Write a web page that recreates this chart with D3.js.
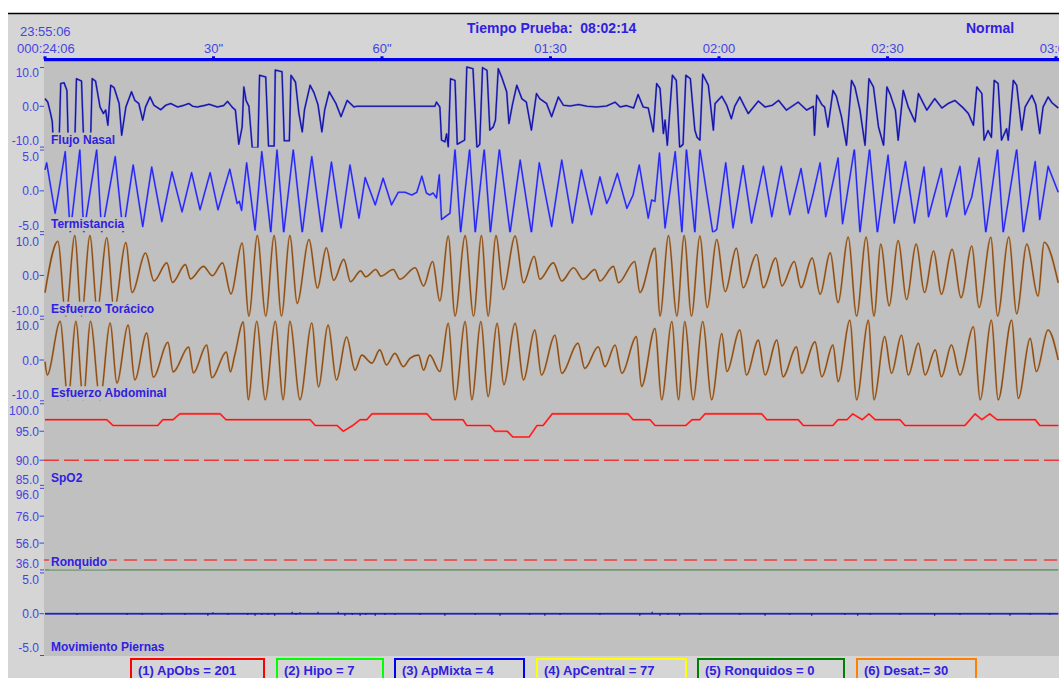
<!DOCTYPE html>
<html><head><meta charset="utf-8">
<script src="https://cdn.jsdelivr.net/npm/d3@7"></script>
<style>
html,body{margin:0;padding:0;background:#fff;overflow:hidden;}
svg{display:block;font-family:"Liberation Sans",Arial,sans-serif;}
</style></head><body>
<svg id="c" width="1059" height="678"></svg>
<script>
// ---------------- DATA ----------------
const headerStart = "23:55:06";
const headerElapsed = "000:24:06";
const headerTitle = "Tiempo Prueba:\u00a0 08:02:14";
const headerStage = "Normal";
const timeTicks = [0, 30, 60, 90, 120, 150, 180];
const timeTickLabels = ["", "30\"", "60\"", "01:30", "02:00", "02:30", "03:00"];

const channelNames = ["Flujo Nasal", "Termistancia", "Esfuerzo Torácico", "Esfuerzo Abdominal", "SpO2", "Ronquido", "Movimiento Piernas"];
const channelTicks = [[10, 0, -10], [5, 0, -5], [10, 0, -10], [10, 0, -10], [100, 95, 90, 85], [96, 76, 56, 36], [5, 0, -5]];
const channelTickLabels = [["10.0", "0.0", "-10.0"], ["5.0", "0.0", "-5.0"], ["10.0", "0.0", "-10.0"], ["10.0", "0.0", "-10.0"],
  ["100.0", "95.0", "90.0", "85.0"], ["96.0", "76.0", "56.0", "36.0"], ["5.0", "0.0", "-5.0"]];
const channelDomains = [[-12.25, 12.25], [-6.04, 6.04], [-12.1, 12.1], [-12.1, 12.1], [85.4, 100], [35, 97.7], [-6.2, 6.2]];

// [seconds, value]
const flujo = [[0,2.2],[0.5,1.2],[1.0,-2.1],[1.3,-4.5],[1.5,-11.3],[2.5,-11],[2.8,6.6],[3.4,6.8],[3.9,4.6],[4.15,-11],[5.3,-11],[5.6,8],[6.5,7.3],[6.9,-11],[8.1,-11],[8.4,8],[9.0,7.3],[9.8,-0.2],[10.4,-2.1],[10.8,-1.1],[11.2,-5.5],[11.7,6.1],[12.3,5.4],[13.2,0.8],[13.65,-8.4],[14.4,-0.2],[15.4,4.2],[16.0,1.7],[16.7,0.8],[17.4,-4],[17.9,-0.2],[18.7,2.7],[19.4,0.3],[20.6,-1],[21.5,0.3],[22.4,0.8],[23.6,-0.2],[24.6,0.2],[25.6,0.8],[26.3,0],[27.1,-0.2],[28.3,0.2],[29.2,0.6],[30.7,-0.2],[31.8,0.2],[32.5,1.4],[33.3,-0.2],[33.9,-1.1],[34.5,-11],[35.1,-6],[35.4,5.6],[35.8,1.7],[36.3,0],[36.9,-12],[37.9,-12],[38.2,9],[39.3,8.5],[39.8,-11.5],[40.8,-11.5],[41.0,10.5],[42.2,10],[42.6,-10],[43.5,-10],[43.8,9],[44.6,7],[45.2,-2],[45.8,-7.4],[46.2,-1],[47.2,6.1],[47.9,3.9],[48.6,0.5],[49.3,-7.4],[49.8,-1],[50.6,4.2],[51.8,0.8],[52.7,-3],[53.8,1.7],[55.0,-0.2],[55.5,0],[69.4,0],[69.7,1.2],[70.3,-0.2],[70.6,-9.8],[71.2,-10.3],[71.5,-8],[71.8,-11.8],[72.2,8],[73.0,7.5],[73.4,-11],[74.7,-9.8],[75.1,11.4],[76.2,10.9],[76.9,-12],[77.4,-11],[77.9,11.2],[78.7,10.4],[79.2,-6.9],[79.8,-6],[80.2,-4],[80.7,10.9],[81.3,8.5],[82.2,4.2],[82.6,-5],[83.2,0.3],[84.0,6.1],[84.9,2.2],[85.7,1.2],[86.6,-6.9],[87.5,3.7],[88.1,2.2],[89.3,0.8],[90.2,-3],[91.4,2.7],[92.3,0.3],[93.5,0.1],[95.0,0.5],[96.5,0],[98.2,-0.2],[100,0.1],[101.5,1.2],[102.4,-0.2],[103.5,0.2],[104.8,-0.5],[105.6,3.4],[106.5,-0.2],[107.4,-0.5],[108.3,-7.4],[108.9,6.6],[109.5,5.2],[110.1,-7.9],[110.4,-4],[110.8,-11.3],[111.7,9],[112.4,7.5],[113.0,-12],[113.6,-11],[114.1,9],[114.9,8],[115.7,-6.9],[116.1,-9],[116.6,-9.8],[117.1,9.3],[118.1,6.1],[119.0,-6.9],[119.3,0.8],[120.5,2.9],[121.4,0.2],[122.2,-3.6],[122.8,0],[123.7,2.7],[124.6,-0.2],[125.2,-2.1],[127.0,1.5],[128.2,-0.2],[129.5,0.3],[130.6,1.7],[132.0,-1.1],[134.1,1.2],[135.6,-1.1],[136.8,0],[137.0,-8.4],[137.4,3.2],[138.3,0.5],[138.8,-0.2],[139.4,-6],[140.3,4.6],[140.9,2.9],[141.8,-3],[142.7,-11.3],[143.6,7.5],[144.2,5.6],[145.1,-1.1],[146.0,-11.3],[146.7,8],[147.5,5.6],[148.4,-6],[149.3,-11.3],[149.9,5.6],[150.5,3.4],[151.4,-1.1],[151.9,-9.8],[152.8,4.6],[153.7,-0.2],[154.9,-4.5],[155.5,3.7],[156.4,0.8],[157.0,-1.1],[158.4,2.2],[159.7,-0.5],[160.8,0.8],[162.0,1.7],[163.5,-0.5],[164.4,-2.1],[165.3,-5.5],[165.9,5.6],[166.8,3.7],[167.2,-9.8],[167.9,-7],[168.5,-9],[169.0,7.5],[169.7,6.6],[170.3,-9.8],[171.2,-6.5],[171.5,-9.8],[172.4,7.5],[173.0,6.1],[173.9,-6.9],[174.5,-0.2],[175.7,3.2],[176.4,0.5],[177.1,-7.9],[177.7,-0.2],[178.6,2.7],[179.3,1],[180.4,-0.5]];

const termistancia = [[0,3],[0.3,4],[1.8,-3.2],[3.6,5.6],[4.5,-6],[6.2,5.9],[6.9,-6],[9.2,5.9],[10.1,-6],[12.5,4.9],[13.9,-6],[15.7,3.7],[17.4,-5.1],[19.0,3.4],[20.8,-4.4],[22.6,2.7],[24.4,-3],[26.1,2.6],[27.6,-2.7],[29.4,2.6],[30.8,-2.7],[32.9,3.1],[34.2,-1.8],[34.6,-1.5],[35.0,-2.8],[35.9,4.0],[37.4,-5.6],[38.6,5.6],[40.2,-6],[41.3,5.9],[42.5,-6],[44.2,5.9],[45.8,-6],[47.5,4.9],[49.3,-6],[51.0,4.1],[52.7,-5.3],[54.3,3.7],[55.9,-3.9],[57.0,1.9],[58.8,-2],[60.2,1.8],[61.7,-2.0],[62.9,-0.2],[64.1,-0.2],[65.3,-0.6],[66.2,-0.2],[67.1,2.1],[67.9,-0.3],[68.5,-0.6],[69.1,-0.3],[69.7,-1.0],[70.2,2.3],[70.6,-4.1],[72.1,-3.2],[73.0,6],[74.0,-6],[75.6,6],[76.6,-6],[78.2,6],[79.3,-6],[80.9,6],[82.8,-6],[84.6,4.4],[86.6,-6],[88.0,4.0],[90.2,-5.1],[92.0,4.4],[93.9,-4.6],[95.5,3.0],[97.3,-3.4],[98.8,2.0],[100.0,-1.8],[100.6,-0.8],[101.9,2.5],[103.6,-2.5],[104.7,-0.6],[105.8,3.7],[107.4,-3.9],[108.0,-1.3],[108.6,-1.5],[109.4,5.4],[110.4,-5.3],[112.2,5.6],[113.4,-6],[114.2,6],[115.7,-6],[116.6,6],[118.9,-6],[119.6,-5.5],[121.2,4.0],[122.5,-5.3],[124.3,3.6],[125.8,-4.6],[127.9,3.5],[129.4,-3.7],[131.1,3.5],[132.6,-3.4],[134.6,3.2],[135.9,-3.2],[136.8,-0.3],[138.0,4.0],[139.0,-3.7],[139.8,-0.6],[141.2,4.7],[142.0,-4.7],[144.1,6],[145.1,-6],[146.8,6],[148.2,-6],[150.1,5.1],[151.2,-4.6],[153.2,4.2],[154.8,-4.6],[156.5,3.4],[157.3,-3.7],[159.6,3.2],[160.5,-3.7],[162.9,3.5],[163.8,-3.4],[165.0,-0.9],[166.3,4.7],[167.5,-6],[169.6,6],[170.6,-6],[173.0,6],[174.2,-6],[176.3,4.2],[177.1,-4.1],[178.6,3.5],[180.4,-0.2]];

const toracico = [[0,-4.9],[2.3,9.8],[3.7,-11.7],[5.3,11.4],[6.5,-11.7],[8.0,11.4],[9.3,-10],[11.0,10.8],[12.3,-10],[14.4,9.4],[15.5,-4.9],[17.9,6.4],[19.4,-1.6],[21.7,3.6],[22.7,-2.0],[25.0,3.1],[25.9,-1.0],[28.2,2.6],[29.8,-0.1],[31.6,3.6],[33.1,-5.3],[35.1,9.3],[36.3,-11.7],[37.8,11.4],[39.3,-11.7],[40.8,11.4],[42.1,-11.7],[43.6,11.4],[44.9,-8],[47.0,10.3],[48.5,-3.6],[50.1,7.9],[51.4,-1.4],[53.2,4.6],[54.4,-1.8],[56.2,1.3],[57.1,-0.4],[58.9,1.7],[59.8,-0.2],[62.0,1.7],[63.2,-1.1],[65.9,2.2],[67.4,-3.0],[69.0,4.0],[70.3,-7.3],[71.8,11.3],[73.0,-11.7],[74.8,11.4],[76.3,-11.7],[77.7,11.4],[78.9,-11.7],[80.3,11.4],[81.6,-4.0],[83.7,11.3],[85.2,-2.1],[87.1,5.5],[88.1,-1.1],[90.5,3.6],[92.0,-1.6],[94.1,2.2],[95.8,-1.1],[97.9,1.7],[98.8,-1.6],[101.2,2.6],[102.1,-2.1],[105.0,4.0],[105.9,-4.9],[108.6,7.8],[109.5,-11.7],[111.0,11.4],[112.5,-11.7],[113.8,11.4],[115.1,-11.7],[116.6,11.3],[117.9,-9.2],[119.6,10.3],[121.1,-4.6],[123.1,7.8],[124.3,-3.5],[126.7,6.0],[127.9,-3.5],[130.1,5.0],[131.2,-3.0],[133.4,4.0],[134.6,-3.5],[136.6,5.0],[138.0,-5.4],[139.8,6.5],[141.2,-7.8],[143.0,11],[144.5,-11.7],[146.2,11],[147.6,-11.7],[148.8,9.0],[150.3,-8.7],[151.9,10],[153.4,-6.9],[155.1,9.0],[156.6,-4.9],[158.2,7.0],[159.6,-5.4],[161.5,7.5],[163.1,-6.4],[165.0,8.4],[166.3,-9.2],[168.4,10.9],[169.6,-11.7],[171.6,11],[173.0,-11],[174.8,9.0],[176.8,-5.9],[177.9,9.5],[180.4,-2.1]];

const abdominal = [[0,-0.5],[0.4,-4.3],[2.7,11.1],[4.1,-11.4],[5.5,11.1],[6.8,-11.4],[8.1,11.1],[9.8,-11.4],[11.6,10.6],[12.8,-6.6],[14.8,10],[16.0,-5.7],[18.1,7.7],[19.3,-4.9],[21.9,5.1],[22.8,-3.4],[25.6,3.7],[26.4,-3.7],[28.8,4.3],[29.7,-5.1],[32.3,2.3],[33.0,-3.4],[33.8,1.5],[35.3,10.9],[36.2,-11.4],[37.7,11.1],[39.2,-11.4],[41.0,11.1],[42.4,-11.4],[43.6,11.1],[45.4,-11.4],[47.5,10.6],[48.7,-7.7],[50.4,10],[51.9,-5.7],[53.7,6.6],[55.2,-2.9],[56.4,1.4],[58.2,-0.9],[59.6,2.9],[60.8,-1.4],[62.3,1.9],[63.8,-1.9],[65.0,0.5],[66.5,1.4],[67.4,-2.9],[68.5,1.4],[70.3,-3.3],[71.8,10.5],[73.0,-11.4],[74.8,11],[76.0,-11.4],[77.6,11],[78.9,-10.5],[80.5,10.5],[81.7,-7.1],[83.7,10.5],[85.2,-5.7],[87.2,8.6],[88.4,-4.3],[90.8,7.1],[92.0,-3.8],[94.9,4.8],[96.1,-2.4],[98.5,3.8],[99.7,-1.9],[101.5,4.3],[102.7,-3.8],[105.3,6.7],[106.2,-7.6],[108.6,9.0],[109.8,-11.4],[111.6,11],[112.8,-11.4],[113.9,11],[115.4,-11.4],[117.1,11],[118.7,-11.4],[120.5,7.6],[121.4,-3.3],[123.7,8.6],[124.9,-4.3],[127.0,5.7],[128.2,-4.3],[130.3,5.7],[131.4,-4.8],[133.8,3.8],[134.7,-3.8],[137.1,5.2],[138.3,-4.8],[140.3,4.3],[141.2,-6.2],[143.3,11.4],[144.5,-11.4],[146.6,11.4],[147.6,-11.4],[149.5,6.7],[150.7,-3.8],[152.5,7.1],[153.7,-4.3],[155.5,4.8],[156.7,-4.3],[158.5,2.9],[159.6,-4.8],[161.4,4.3],[162.9,-4.3],[165.3,9.5],[166.5,-11.4],[168.5,11.4],[169.7,-11.4],[172.1,11.4],[173.3,-11],[175.4,6.2],[176.5,-3.3],[178.6,8.6],[180.4,0]];

const spo2 = [[0,97],[11.0,97],[12.1,96],[20.1,96],[21.0,97],[22.8,97],[24.0,98],[31.2,98],[32.2,97],[47.2,97],[48.1,96],[52.0,96],[53.1,95],[54.8,96],[56.1,97],[57.3,97],[58.2,98],[68.0,98],[68.9,97],[74.4,97],[75.1,96],[79.2,96],[80.1,95],[82.3,95],[83.3,94],[86.2,94],[87.6,96],[88.7,96],[90.3,98],[103.8,98],[104.7,97],[107.7,97],[108.6,96],[114.1,96],[115.2,97],[116.6,97],[117.5,98],[127.6,98],[128.5,97],[134.1,97],[135.0,96],[140.3,96],[141.2,97],[142.8,97],[143.8,98],[145.5,97],[146.7,98],[147.8,97],[152.2,97],[153.1,96],[163.8,96],[164.7,97],[165.6,98],[166.8,97],[168.2,98],[169.5,97],[176.3,97],[177.1,96],[180.4,96]];
const spo2Threshold = 90;

const ronquido = [[0,36],[180.4,36]];
const ronquidoThreshold = 43.5;

const piernas = [[0,0],[180.4,0]];
const piernasSpikes = [[5.7,-0.2],[14.6,-0.2],[17.3,-0.2],[20.8,-0.2],[24.9,-0.2],[29.0,-0.3],[29.9,0.2],[32.6,-0.2],[36.1,-0.2],[37.4,-0.3],[38.6,-0.2],[39.7,-0.2],[40.9,-0.3],[44.0,0.3],[44.7,-0.2],[45.4,0.2],[48.6,0.3],[52.2,0.3],[53.4,-0.3],[54.7,-0.2],[56.1,-0.3],[57.1,-0.2],[58.8,-0.3],[60.5,-0.2],[62.3,-0.2],[66.8,-0.2],[71.2,-0.3],[76.6,-0.2],[81.0,-0.3],[86.3,-0.2],[89.0,-0.3],[91.7,-0.2],[98.8,-0.2],[105.9,-0.3],[108.1,0.3],[109.5,-0.3],[110.9,-0.2],[113.0,-0.3],[116.6,-0.2],[123.7,-0.2],[128.2,-0.3],[132.6,-0.2],[136.5,-0.3],[142.4,-0.2],[144.7,-0.3],[146.9,-0.2],[152.2,-0.2],[158.4,-0.3],[162.9,-0.2],[168.2,-0.2],[171.8,-0.3],[175.4,-0.2],[178.9,-0.2]];

const eventLabels = ["(1) ApObs = 201", "(2) Hipo = 7", "(3) ApMixta = 4", "(4) ApCentral = 77", "(5) Ronquidos = 0", "(6) Desat.= 30"];

// ---------------- LAYOUT / STYLE ----------------
const W = 1059, H = 678;
const plotL = 44, plotT = 60, plotB = 656;
const bandTop = 64, bandH = (plotB - bandTop) / 7;
const txtReg = "#4444e0", txtBold = "#3020e0";
const gHead = "#d5d5d5", gPlot = "#c0c0c0";
const eventColors = ["#ff0000", "#00ff00", "#0000ff", "#ffff00", "#008000", "#ff8000"];
const eventBoxX = [131, 277, 395, 537, 698, 857];
const eventBoxW = [133, 106, 129, 149, 146, 119];

const svg = d3.select("#c");
const x = d3.scaleLinear().domain([0, 180]).range([45, 1056]);

// backgrounds
svg.append("rect").attr("x", 0).attr("y", 0).attr("width", W).attr("height", H).attr("fill", "#fff");
svg.append("rect").attr("x", 8).attr("y", 14).attr("width", W - 8).attr("height", H - 14).attr("fill", gHead);
svg.append("line").attr("x1", 8).attr("x2", W).attr("y1", 13.5).attr("y2", 13.5).attr("stroke", "#000").attr("stroke-width", 1.3);
svg.append("rect").attr("x", plotL).attr("y", plotT).attr("width", W - plotL).attr("height", plotB - plotT).attr("fill", gPlot);

// header texts
svg.append("text").attr("x", 20).attr("y", 36).attr("font-size", 13).attr("fill", txtReg).text(headerStart);
svg.append("text").attr("x", 17).attr("y", 53).attr("font-size", 13).attr("fill", txtReg).text(headerElapsed);
svg.append("text").attr("x", 467).attr("y", 33).attr("font-size", 14).attr("font-weight", "bold").attr("fill", txtBold).text(headerTitle);
svg.append("text").attr("x", 966).attr("y", 33).attr("font-size", 14).attr("font-weight", "bold").attr("fill", txtBold).text(headerStage);

// time axis bar
svg.append("rect").attr("x", plotL).attr("y", 58).attr("width", W - plotL).attr("height", 3.2).attr("fill", "#0000ee");
const tg = svg.append("g");
tg.selectAll("rect.tk").data(timeTicks).join("rect").attr("x", d => x(d) - 1.5).attr("y", 56.3).attr("width", 3).attr("height", 3).attr("fill", "#0000ee");
tg.selectAll("text").data(timeTicks).join("text")
  .attr("x", d => x(d)).attr("y", 53).attr("text-anchor", "middle").attr("font-size", 13).attr("fill", txtReg)
  .text((d, i) => timeTickLabels[i]);

// channels
const series = [
  {data: flujo, under: "#6a6ad8", color: "#12129c", curve: d3.curveLinear},
  {data: termistancia, under: "#7a7af5", color: "#2222f2", curve: d3.curveLinear},
  {data: toracico, under: "#b48a5e", color: "#8a4810", curve: d3.curveMonotoneX},
  {data: abdominal, under: "#b48a5e", color: "#8a4810", curve: d3.curveMonotoneX},
  {data: spo2, under: "#f06a6a", color: "#ff1010", curve: d3.curveLinear},
  {data: ronquido, under: null, color: "#2a6e2a", curve: d3.curveLinear},
  {data: piernas, under: "#5a5acc", color: "#10109a", curve: d3.curveLinear}
];

const defs = svg.append("defs");
channelNames.forEach((name, i) => {
  const top = bandTop + i * bandH, bot = top + bandH;
  const y = d3.scaleLinear().domain(channelDomains[i]).range([bot, top]);
  const clipTop = i === 0 ? plotT + 3 : top + 1;
  defs.append("clipPath").attr("id", "cl" + i).append("rect")
    .attr("x", plotL).attr("y", clipTop).attr("width", W - plotL).attr("height", bot - 1 - clipTop);
  const g = svg.append("g").attr("clip-path", "url(#cl" + i + ")");

  if (i === 4) {
    g.append("line").attr("x1", plotL).attr("x2", W).attr("y1", y(spo2Threshold)).attr("y2", y(spo2Threshold))
      .attr("stroke", "#e83a3a").attr("stroke-width", 1.5).attr("stroke-dasharray", "15,5");
  }
  if (i === 5) {
    g.append("line").attr("x1", plotL).attr("x2", W).attr("y1", y(ronquidoThreshold)).attr("y2", y(ronquidoThreshold))
      .attr("stroke", "#e06060").attr("stroke-width", 2).attr("stroke-dasharray", "13,7");
  }
  const s = series[i];
  const line = d3.line().x(d => x(d[0])).y(d => y(d[1])).curve(s.curve);
  if (s.under) g.append("path").datum(s.data).attr("d", line).attr("fill", "none").attr("stroke", s.under).attr("stroke-width", 2).attr("stroke-linejoin", "round");
  g.append("path").datum(s.data).attr("d", line).attr("fill", "none").attr("stroke", s.color).attr("stroke-width", 1.1).attr("stroke-linejoin", "round");
  if (i === 6) {
    g.selectAll("line.sp").data(piernasSpikes).join("line")
      .attr("x1", d => x(d[0])).attr("x2", d => x(d[0])).attr("y1", y(0)).attr("y2", d => y(d[1]))
      .attr("stroke", s.color).attr("stroke-width", 1.2);
  }

  const lab = svg.append("g");
  const bl = bot - 5;
  const t = lab.append("text").attr("x", 51).attr("y", bl).attr("font-size", 12).attr("font-weight", "bold").attr("fill", txtBold).text(name);
  const tw = t.node().getComputedTextLength();
  lab.insert("rect", "text").attr("x", 49).attr("y", bl - 11).attr("width", tw + 4).attr("height", 14).attr("fill", gPlot);

  channelTicks[i].forEach((v, k) => {
    const raw = y(v);
    const cy = Math.max(top + 8, Math.min(bot - 7.5, raw));
    svg.append("text").attr("x", 39).attr("y", cy + 4.5).attr("text-anchor", "end").attr("font-size", 12)
      .attr("fill", txtReg).text(channelTickLabels[i][k]);
    if (Math.abs(cy - raw) < 1 && raw > top + 9 && raw < bot - 9) {
      svg.append("line").attr("x1", 39.5).attr("x2", 44).attr("y1", raw).attr("y2", raw).attr("stroke", txtReg).attr("stroke-width", 1);
    }
  });
  if (i > 0) {
    [-1.5, 1.5].forEach(o => svg.append("line").attr("x1", 40).attr("x2", 44).attr("y1", top + o).attr("y2", top + o).attr("stroke", txtReg).attr("stroke-width", 1));
  }
});
svg.append("line").attr("x1", 40).attr("x2", 44).attr("y1", 67.5).attr("y2", 67.5).attr("stroke", txtReg);
svg.append("line").attr("x1", 40).attr("x2", 44).attr("y1", 655.5).attr("y2", 655.5).attr("stroke", txtReg);

eventLabels.forEach((lbl, i) => {
  svg.append("rect").attr("x", eventBoxX[i]).attr("y", 659).attr("width", eventBoxW[i]).attr("height", 30)
    .attr("fill", "none").attr("stroke", eventColors[i]).attr("stroke-width", 2);
  svg.append("text").attr("x", eventBoxX[i] + 7).attr("y", 675).attr("font-size", 13).attr("font-weight", "bold")
    .attr("fill", txtBold).text(lbl);
});
</script>
</body></html>
